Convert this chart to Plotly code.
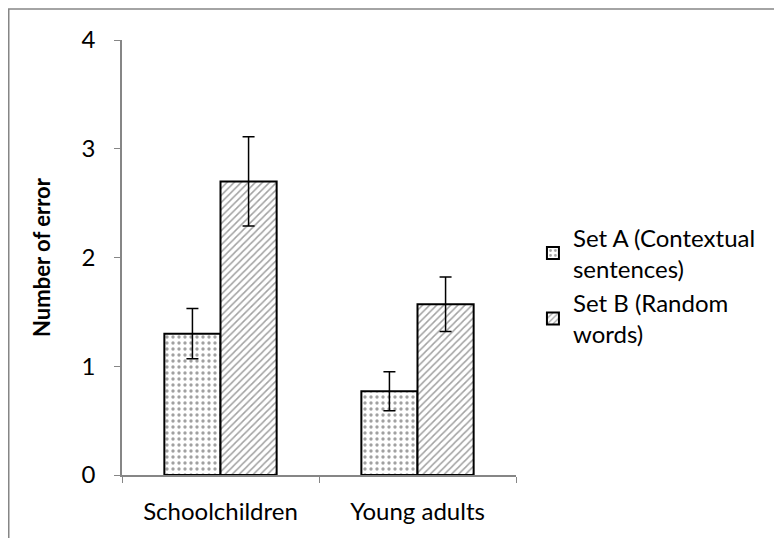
import plotly.graph_objects as go

groups = ["Schoolchildren", "Young adults"]
set_a = [1.30, 0.77]
set_a_err = [0.23, 0.18]
set_b = [2.70, 1.57]
set_b_err = [0.41, 0.25]
y_ticks = [0, 1, 2, 3, 4]

font = "Lato, 'Open Sans', sans-serif"

fig = go.Figure()

fig.add_trace(go.Bar(
    x=groups, y=set_a,
    name="Set A (Contextual<br>sentences)",
    marker=dict(color="white", line=dict(color="black", width=2),
                pattern=dict(shape=".", fgcolor="#444444", bgcolor="white", size=6, solidity=0.25)),
    error_y=dict(type="data", array=set_a_err, color="black", thickness=1.5, width=6),
))

fig.add_trace(go.Bar(
    x=groups, y=set_b,
    name="Set B (Random<br>words)",
    marker=dict(color="white", line=dict(color="black", width=2),
                pattern=dict(shape="/", fgcolor="#444444", bgcolor="white", size=5, solidity=0.3)),
    error_y=dict(type="data", array=set_b_err, color="black", thickness=1.5, width=6),
))

fig.update_layout(
    width=782, height=538,
    margin=dict(l=114, r=274, t=32, b=71, autoexpand=False),
    paper_bgcolor="white", plot_bgcolor="white",
    font=dict(family=font, size=24, color="black"),
    barmode="group", bargap=0.43, bargroupgap=0,
    showlegend=True,
    legend=dict(x=1.043, y=0.435, yanchor="middle", xanchor="left",
                font=dict(size=24), tracegroupgap=0, itemwidth=30),
    xaxis=dict(showline=True, linecolor="#868686", linewidth=1.5,
               ticks="outside", tickson="boundaries", ticklen=6, tickcolor="#868686",
               showgrid=False, tickfont=dict(size=24), ticklabelstandoff=14),
    yaxis=dict(range=[0, 4], tickvals=y_ticks, showline=True, linecolor="#868686", linewidth=1.5,
               ticks="outside", ticklen=6, tickcolor="#868686", showgrid=False, zeroline=False,
               tickfont=dict(size=24), ticklabelstandoff=14,
               title=dict(text="<b>Number of error</b>", font=dict(size=22), standoff=25)),
    shapes=[dict(type="rect", xref="paper", yref="paper",
                 x0=-0.2874, y0=-0.3, x1=1.9, y1=1.0713,
                 line=dict(color="#868686", width=1.5), fillcolor="rgba(0,0,0,0)", layer="below")],
)

fig.write_html("out.html")
